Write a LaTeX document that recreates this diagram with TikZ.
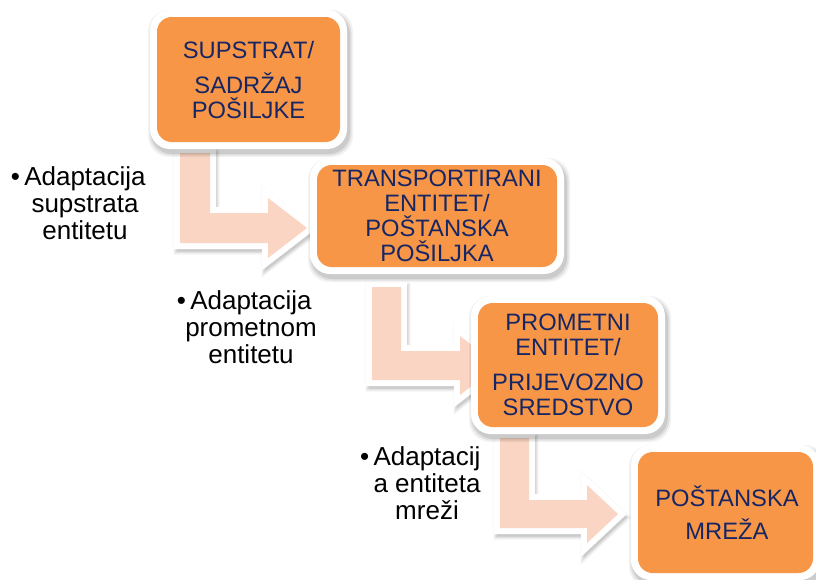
\documentclass[tikz,border=0pt]{standalone}
\usepackage{fontspec}
\setmainfont{Liberation Sans}
\definecolor{boxorange}{HTML}{F79646}
\definecolor{arrowpeach}{HTML}{FAD5C3}
\definecolor{boxtext}{RGB}{22,38,100}
\tikzset{
  boxtxt/.style={font=\fontsize{17.8pt}{18.75pt}\selectfont, text=boxtext, align=center, inner sep=0pt},
  lbl/.style={font=\fontsize{19.5pt}{20.25pt}\selectfont, text=black, align=center, inner sep=0pt},
  shadowlayer/.style={fill=black, opacity=#1},
}
% rounded card: x1 y1 x2 y2 (orange area, px)
\newcommand{\cardshape}[4]{%
  \foreach \e/\a in {4/0.05,2.5/0.07,1/0.09}{%
    \fill[shadowlayer=\a, rounded corners=16pt]
      ({#1-7-\e+2},{#2-7-\e+4}) rectangle ({#3+7+\e+2},{#4+7+\e+4});
  }
  \fill[white, rounded corners=15pt] ({#1-7},{#2-7}) rectangle ({#3+7},{#4+7});
  \fill[boxorange, rounded corners=11pt] (#1,#2) rectangle (#3,#4);
}
% bent arrow: xl xr ytop yshafttop yshaftbottom xbase xtip
\newcommand{\bentarr}[7]{%
  \def\arrpoly{({#1},{#3}) -- ({#2},{#3}) -- ({#2},{#4}) -- ({#6},{#4}) -- ({#6},{#4-15})
    -- ({#7},{(#4+#5)/2}) -- ({#6},{#5+15}) -- ({#6},{#5}) -- ({#1},{#5}) -- cycle}%
  \foreach \w/\a in {16/0.05,13/0.07,10/0.09}{%
    \begin{scope}[shift={(1.5,3.5)}]
      \filldraw[shadowlayer=\a, line width=\w*0.75pt, line join=miter, draw=black] \arrpoly;
    \end{scope}
  }
  \filldraw[white, draw=white, line width=9pt, line join=miter] \arrpoly;
  \fill[arrowpeach] \arrpoly;
}
\begin{document}
\begin{tikzpicture}[x=0.75pt,y=-0.75pt]
\useasboundingbox (0,0) rectangle (816,579);
\fill[white] (0,0) rectangle (816,579);

% bent arrows
\bentarr{180}{210}{153}{213}{243}{268}{307}
\bentarr{372}{401}{287}{351}{380}{460}{498}
\bentarr{500}{529}{438}{500}{528}{587}{618}

% boxes
\cardshape{157}{17}{340}{142}
\node[boxtxt] (b1) at (248.5,80) {SUPSTRAT/\\[7.5pt]SADRŽAJ\\POŠILJKE};
\cardshape{317}{165}{557}{267}
\node[boxtxt] (b2) at (437,216) {TRANSPORTIRANI\\ENTITET/\\POŠTANSKA\\POŠILJKA};
\cardshape{478}{303}{658}{427}
\node[boxtxt] (b3) at (568,365) {PROMETNI\\ENTITET/\\[7.5pt]PRIJEVOZNO\\SREDSTVO};
\cardshape{638}{452}{813}{573}
\node[boxtxt] (b4) at (727,513) {POŠTANSKA\\[6pt]MREŽA};

% labels
\node[lbl] (l1) at (85,203) {\llap{\textbullet\,}Adaptacija\\supstrata\\entitetu};
\node[lbl] (l2) at (251,327) {\llap{\textbullet\,}Adaptacija\\prometnom\\entitetu};
\node[lbl] (l3) at (427,483) {\llap{\textbullet\,}Adaptacij\\a entiteta\\mreži};
\end{tikzpicture}
\end{document}
